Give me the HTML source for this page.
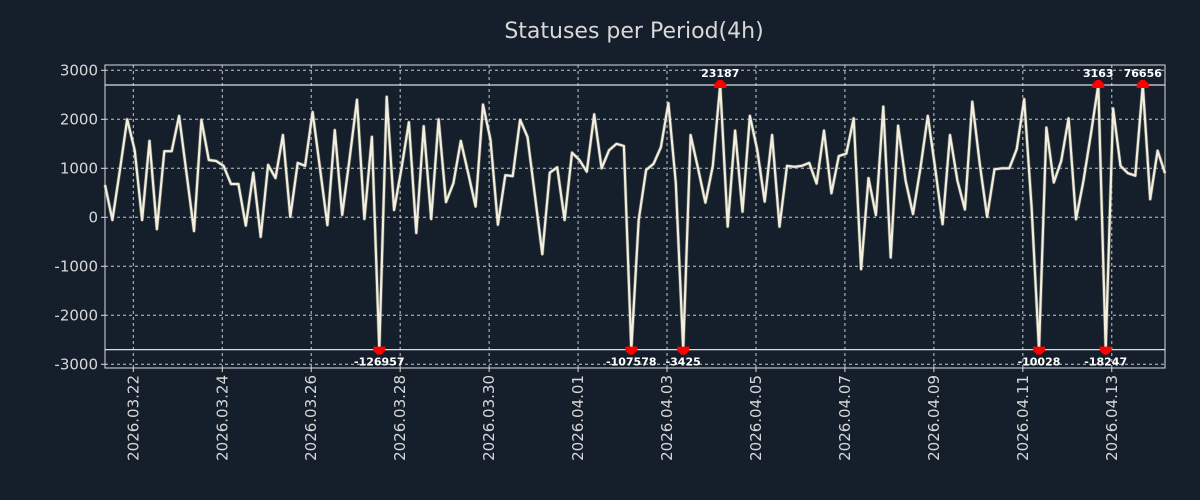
<!DOCTYPE html>
<html><head><meta charset="utf-8"><style>
html,body{margin:0;padding:0;background:#151f2c;}
svg{display:block;font-family:"DejaVu Sans","Liberation Sans",sans-serif;}
</style></head><body>
<svg id="chart" width="1200" height="500" viewBox="0 0 1200 500" xmlns="http://www.w3.org/2000/svg">
<rect x="0" y="0" width="1200" height="500" fill="#151f2c"/>
<text x="634" y="38" text-anchor="middle" font-size="22" fill="#d8d8d8">Statuses per Period(4h)</text>
<g id="grid"></g><g id="axes"></g><g id="series"></g><g id="marks"></g>
</svg>
<script>
const values = [660,-55,950,2000,1370,-55,1560,-240,1350,1350,2070,900,-280,1990,1170,1150,1050,680,680,-170,910,-400,1070,800,1680,10,1110,1050,2150,1000,-160,1780,50,1200,2400,-35,1640,-126957,2460,150,1000,1940,-320,1860,-35,2000,310,695,1560,900,220,2300,1580,-150,860,840,1990,1640,450,-750,910,1020,-55,1320,1170,930,2100,1000,1370,1500,1455,-107578,-55,965,1090,1430,2330,700,-3425,1680,1000,300,1050,23187,-190,1770,115,2070,1370,320,1680,-190,1050,1030,1050,1110,690,1770,490,1250,1300,2020,-1060,800,45,2260,-820,1870,750,65,1000,2070,1000,-140,1680,750,160,2360,1100,10,980,1000,1000,1390,2410,200,-10028,1830,710,1150,2020,-40,750,1700,3163,-18247,2220,1050,900,850,76656,370,1360,900];
const yTicks = [3000,2000,1000,0,-1000,-2000,-3000];
const dateLabels = ["2026.03.22","2026.03.24","2026.03.26","2026.03.28","2026.03.30","2026.04.01","2026.04.03","2026.04.05","2026.04.07","2026.04.09","2026.04.11","2026.04.13"];
const clipHi = 2700, clipLo = -2700;

const NS="http://www.w3.org/2000/svg";
const L=105,R=1165,T=65,B=368;
const step=(R-L)/(values.length-1);
const xAt=i=>L+i*step;
const yAt=v=>217.3-v*0.049;
function mk(tag,attrs,parent){const e=document.createElementNS(NS,tag);for(const k in attrs)e.setAttribute(k,attrs[k]);document.getElementById(parent).appendChild(e);return e;}

// grid + y ticks
yTicks.forEach(t=>{
  const y=yAt(t);
  const g=mk('line',{x1:L,x2:R,y1:y,y2:y,stroke:'#c8c8c8','stroke-width':1,'stroke-dasharray':'3,3'},'grid');
  
  
  const tk=mk('line',{x1:L-4,x2:L,y1:y,y2:y,stroke:'#ddd'},'axes');
  
  
  const tx=mk('text',{x:L-7,y:y+5,'text-anchor':'end','font-size':15,fill:'#d8d8d8'},'axes');
  tx.textContent=String(t);
  
  
});
dateLabels.forEach((d,k)=>{
  const x=xAt(3.82+12*k);
  const g=mk('line',{x1:x,x2:x,y1:T,y2:B,stroke:'#c8c8c8','stroke-width':1,'stroke-dasharray':'3,3'},'grid');
  
  
  const tk=mk('line',{x1:x,x2:x,y1:B,y2:B+4,stroke:'#ddd'},'axes');
  
  
  const tx=mk('text',{x:0,y:0,'text-anchor':'end','font-size':15,fill:'#d8d8d8',transform:`translate(${x+5},${B+7}) rotate(-90)`},'axes');
  tx.textContent=d;
  
  
});
[clipHi,clipLo].forEach(c=>{
  const y=yAt(c);
  const l=mk('line',{x1:L,x2:R,y1:y,y2:y,stroke:'#dcdcdc','stroke-width':1.2},'axes');
  
  
});
const frame=mk('rect',{x:L,y:T,width:R-L,height:B-T,fill:'none',stroke:'#dcdcdc','stroke-width':1},'axes');



// series
const pts=values.map((v,i)=>[xAt(i),yAt(Math.max(clipLo,Math.min(clipHi,v)))]);
const d=pts.map((p,i)=>(i?'L':'M')+p[0].toFixed(1)+','+p[1].toFixed(1)).join('');
const sh=mk('path',{d:d,fill:'none',stroke:'#8a8878','stroke-width':3.5,'stroke-linejoin':'round','stroke-opacity':0.6},'series');


const ln=mk('path',{d:d,fill:'none',stroke:'#f2efdf','stroke-width':2.2,'stroke-linejoin':'round'},'series');



// outlier markers
values.forEach((v,i)=>{
  if(v<=clipHi && v>=clipLo) return;
  const x=xAt(i), hi=v>clipHi, y=yAt(hi?clipHi:clipLo);
  const pth=hi?`M${x-6},${y+3}L${x+6},${y+3}L${x+6},${y-1}L${x+2},${y-5}L${x-2},${y-5}L${x-6},${y-1}Z`
             :`M${x-6},${y-3}L${x+6},${y-3}L${x+6},${y+1}L${x+2},${y+5}L${x-2},${y+5}L${x-6},${y+1}Z`;
  const m=mk('path',{d:pth,fill:'#ff0000'},'marks');
  
  
  const t=mk('text',{x:x,y:hi?y-8:y+16,'text-anchor':'middle','font-size':11,'font-weight':'bold',fill:'#ffffff'},'marks');
  t.textContent=String(v);
  
  
});
</script>
</body></html>
